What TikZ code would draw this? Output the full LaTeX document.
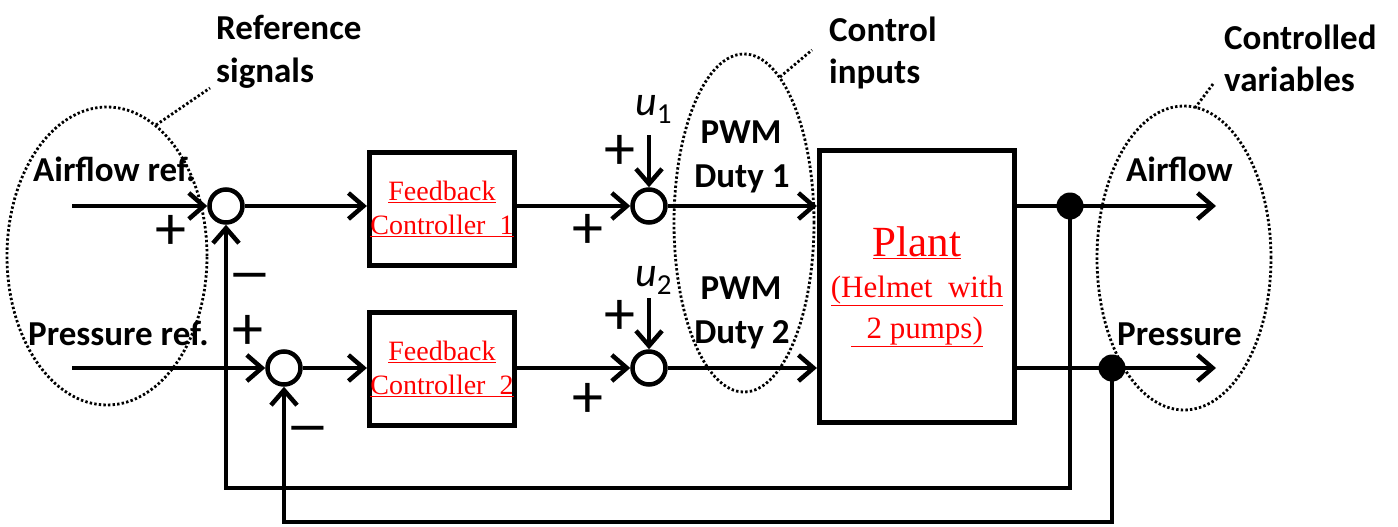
\documentclass[tikz,border=0pt]{standalone}
\usepackage{fontspec}
\setmainfont{Carlito}
\newfontfamily\tnr{Liberation Serif}
\usetikzlibrary{arrows.meta}
\begin{document}
\begin{tikzpicture}[x=1pt,y=-1pt,
  lbl/.style={font=\bfseries\fontsize{35}{43}\selectfont, inner sep=0pt},
  sgn/.style={font=\fontsize{62}{62}\selectfont, inner sep=0pt},
  sumj/.style={circle, draw, line width=4.5pt, minimum size=33pt, inner sep=0pt, fill=white},
  blk/.style={draw, line width=5.2pt, inner sep=0pt, align=center, text=red},
  fcblk/.style={blk, minimum width=145pt, minimum height=113pt, font=\tnr\fontsize{28}{34}\selectfont},
  dotj/.style={circle, fill=black, minimum size=27pt, inner sep=0pt},
  sig/.style={line width=4.5pt},
  arr/.style={sig, -{Straight Barb[length=15pt,width=26pt]}},
  ell/.style={line width=2.8pt, dash pattern=on 2.4pt off 2.2pt}]
\useasboundingbox (0,0) rectangle (1398,527);

% blocks and junctions
\node[sumj] (s1) at (226,206) {};
\node[sumj] (s2) at (284,368) {};
\node[sumj] (s3) at (649,206) {};
\node[sumj] (s4) at (649,368) {};
\node[fcblk] (fc1) at (442,209) {\underline{Feedback}\\\underline{Controller\ \ 1}};
\node[fcblk] (fc2) at (442,369) {\underline{Feedback}\\\underline{Controller\ \ 2}};
\node[blk, minimum width=195pt, minimum height=272pt, font=\tnr\fontsize{31}{41}\selectfont] (plant) at (917,286.5)
  {{\fontsize{43}{43}\selectfont\underline{Plant}}\\\underline{(Helmet\ \ with}\\\underline{\ \ 2 pumps)}};

% coordinates
\coordinate (in1) at (72,206);
\coordinate (in2) at (72,368);
\coordinate (j1) at (1070,206);
\coordinate (j2) at (1112,368);
\coordinate (out1) at (1216,206);
\coordinate (out2) at (1216,368);
\coordinate (fa) at (1070,488);
\coordinate (fb) at (226,488);
\coordinate (fc) at (1112,522);
\coordinate (fd) at (284,522);
\coordinate (u1s) at (649,135);
\coordinate (u2s) at (649,298);

% signal lines
\draw[arr] (in1) -- (s1.west);
\draw[arr] (s1.east) -- (s1 -| fc1.west);
\draw[arr] (fc1.east |- s3) -- (s3.west);
\draw[arr] (s3.east) -- (s3 -| plant.west);
\draw[arr] (in2) -- (s2.west);
\draw[arr] (s2.east) -- (s2 -| fc2.west);
\draw[arr] (fc2.east |- s4) -- (s4.west);
\draw[arr] (s4.east) -- (s4 -| plant.west);
\draw[arr] (j1 -| plant.east) -- (out1);
\draw[arr] (j2 -| plant.east) -- (out2);
\draw[arr] (j1) -- (fa) -- (fb) -- (s1.south);
\draw[arr] (j2) -- (fc) -- (fd) -- (s2.south);
\draw[arr] (u1s) -- (s3.north);
\draw[arr] (u2s) -- (s4.north);
\node[dotj] (d1) at (j1) {};
\node[dotj] (d2) at (j2) {};

% signs
\node[sgn] (p1) at (171,232) {+};
\node[sgn] (m1) at (250,283) {\scalebox{1.45}[1]{–}};
\node[sgn] (p2) at (248,332) {+};
\node[sgn] (m2) at (308,436) {\scalebox{1.45}[1]{–}};
\node[sgn] (p3) at (620,152) {+};
\node[sgn] (p4) at (588,231) {+};
\node[sgn] (p5) at (620,317) {+};
\node[sgn] (p6) at (588,400) {+};

% u labels
\node[anchor=base west, inner sep=0pt, font=\fontsize{42}{42}\selectfont] (u1) at (635,115) {\itshape u\raisebox{-8pt}{\fontsize{29}{29}\selectfont\upshape 1}};
\node[anchor=base west, inner sep=0pt, font=\fontsize{42}{42}\selectfont] (u2) at (635,286) {\itshape u\raisebox{-8pt}{\fontsize{29}{29}\selectfont\upshape 2}};

% text labels
\node[lbl, anchor=base west] (rs1) at (216,40) {Reference};
\node[lbl, anchor=base west] (rs2) at (216,82) {signals};
\node[lbl, anchor=base west] (ar) at (33,181) {Airflow ref.};
\node[lbl, anchor=base west] (pr) at (28,345) {Pressure ref.};
\node[lbl, anchor=base] (pw1) at (741,143) {PWM};
\node[lbl, anchor=base] (dt1) at (742,187) {Duty 1};
\node[lbl, anchor=base] (pw2) at (741,299) {PWM};
\node[lbl, anchor=base] (dt2) at (742,343) {Duty 2};
\node[lbl, anchor=base west] (ci1) at (829,42) {Control};
\node[lbl, anchor=base west] (ci2) at (829,84) {inputs};
\node[lbl, anchor=base west] (cv1) at (1224,50) {Controlled};
\node[lbl, anchor=base west] (cv2) at (1224,92) {variables};
\node[lbl, anchor=base west] (ao) at (1126,181) {Airflow};
\node[lbl, anchor=base west] (po) at (1117,345) {Pressure};

% dotted groupings
\draw[ell] (107,256) ellipse [x radius=100pt, y radius=149pt];
\draw[ell] (744,223) ellipse [x radius=70pt, y radius=169pt];
\draw[ell] (1184,258) ellipse [x radius=87pt, y radius=152pt];
\coordinate (l1a) at (156,125); \coordinate (l1b) at (210,88);
\coordinate (l2a) at (780,77);  \coordinate (l2b) at (812,50);
\coordinate (l3a) at (1195,108); \coordinate (l3b) at (1213,84);
\draw[ell] (l1a) -- (l1b);
\draw[ell] (l2a) -- (l2b);
\draw[ell] (l3a) -- (l3b);
\end{tikzpicture}
\end{document}
